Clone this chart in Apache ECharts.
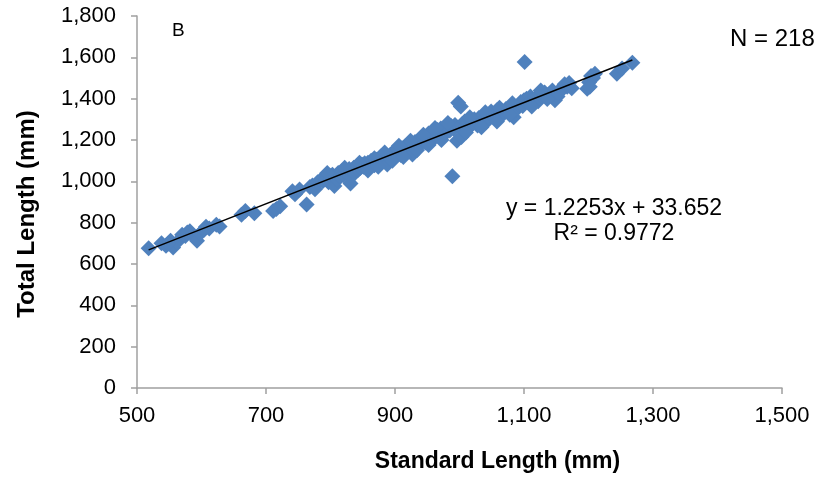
<!DOCTYPE html>
<html>
<head>
<meta charset="utf-8">
<script src="https://cdn.jsdelivr.net/npm/echarts@6/dist/echarts.min.js"></script>
<style>html,body{margin:0;padding:0;background:#fff}#c{width:832px;height:478px}</style>
</head>
<body>
<div id="c"></div>
<script>
// Standard length (mm) vs total length (mm)
const points = [
[518,676],[538,700],[545,688],[552,712],[556,680],[562,705],[570,742],[575,735],[582,758],[586,740],
[593,712],[598,748],[607,780],[612,772],[623,790],[628,782],[662,838],[668,856],[682,846],[711,856],
[716,866],[722,880],[741,952],[745,938],[752,960],[763,888],
[768,972],[772,980],[776,962],[780,995],[784,1004],[788,1000],[790,1018],[794,1010],[797,996],[800,1024],
[803,1032],[806,978],[810,1008],[812,1040],[815,1022],[818,1050],[820,1030],[823,1044],[826,1036],[829,1060],
[831,990],[833,1052],[836,1066],[838,1040],[841,1072],[843,1056],[846,1064],[849,1080],[851,1070],[853,1088],
[856,1074],[858,1090],[861,1082],[863,1100],[866,1092],[868,1078],[871,1104],[873,1096],[876,1112],[878,1120],
[881,1108],[883,1126],[886,1098],[888,1082],[890,1116],[893,1130],[895,1122],[897,1140],[900,1148],[902,1134],
[904,1156],[907,1144],[909,1128],[911,1160],[914,1150],[916,1170],[918,1162],[920,1178],[922,1166],[925,1184],
[927,1130],[929,1172],[931,1190],[934,1180],[936,1196],[938,1186],[940,1200],[943,1192],[945,1208],[947,1188],
[950,1214],[952,1232],[955,1204],[957,1220],[959,1240],[962,1212],[964,1228],[966,1248],[969,1236],[971,1256],
[973,1244],[976,1230],[978,1252],[980,1238],[983,1260],[985,1246],[987,1268],[989,1024],[991,1254],[993,1272],
[996,1196],[998,1380],[1000,1262],[1002,1362],[1003,1214],[1004,1276],[1006,1250],[1008,1290],[1011,1270],[1013,1284],
[1015,1262],[1018,1296],[1020,1278],[1023,1300],[1025,1286],[1028,1270],[1030,1306],[1033,1292],[1036,1316],[1038,1300],
[1041,1286],[1044,1322],[1046,1306],[1049,1338],[1052,1314],[1055,1328],[1058,1344],[1061,1320],[1064,1336],[1068,1326],
[1072,1350],[1076,1340],[1080,1358],[1084,1310],[1088,1346],[1092,1370],[1095,1384],[1098,1364],[1100,1392],[1101,1578],
[1104,1400],[1107,1380],[1110,1410],[1113,1396],[1118,1404],[1122,1388],[1127,1414],[1132,1430],[1138,1420],[1144,1440],
[1148,1392],[1152,1410],[1158,1450],[1163,1470],[1167,1458],[1170,1476],[1198,1448],[1201,1480],[1204,1510],[1207,1500],
[1244,1520],[1252,1546],[1268,1574],
[795,1040],[822,1066],[845,1090],[868,1112],[884,1140],[906,1172],[924,1196],[944,1226],[962,1258],[982,1282],
[1016,1310],[1040,1334],[1062,1356],[1082,1378],[858,1052],[874,1070],[896,1100],[913,1118],[934,1150],[952,1176],
[972,1200],[1010,1236],[1034,1262],[1058,1290],[1078,1322],[1112,1362],[1136,1398],[1154,1428],[1174,1450],[1126,1440],
[1202,1458],[1210,1520],[578,752],[604,766],[548,698]
];
const slope = 1.2253, intercept = 33.652;
const trendRange = [518, 1268];
const xTicks = {min: 500, max: 1500, step: 200};
const yTicks = {min: 0, max: 1800, step: 200};
const eqText = 'y = 1.2253x + 33.652';
const r2Text = 'R² = 0.9772';
const panelLabel = 'B';
const nLabel = 'N = 218';

const fmt = v => v.toLocaleString('en-US');
const F = 'Liberation Sans, Arial, sans-serif';
const AX = '#a0a0a0';
const chart = echarts.init(document.getElementById('c'));
chart.setOption({
  animation: false,
  textStyle: {fontFamily: F},
  grid: {left: 137, right: 50, top: 16, bottom: 88},
  xAxis: {
    type: 'value', min: xTicks.min, max: xTicks.max, interval: xTicks.step,
    name: 'Standard Length (mm)', nameLocation: 'middle', nameGap: 62,
    nameTextStyle: {fontFamily: F, fontSize: 23, fontWeight: 'bold', color: '#000', padding: [0,0,0,76]},
    axisLine: {show: true, lineStyle: {color: AX, width: 1.5}},
    axisTick: {show: true, length: 6, lineStyle: {color: AX, width: 1.5}},
    axisLabel: {fontFamily: F, fontSize: 22, color: '#000', margin: 17, formatter: fmt},
    splitLine: {show: false}
  },
  yAxis: {
    type: 'value', min: yTicks.min, max: yTicks.max, interval: yTicks.step,
    name: 'Total Length (mm)', nameLocation: 'middle', nameGap: 98,
    nameTextStyle: {fontFamily: F, fontSize: 24, fontWeight: 'bold', color: '#000', padding: [0,24,0,0]},
    axisLine: {show: true, lineStyle: {color: AX, width: 1.5}},
    axisTick: {show: true, length: 6, lineStyle: {color: AX, width: 1.5}},
    axisLabel: {fontFamily: F, fontSize: 22, color: '#000', margin: 21, formatter: fmt},
    splitLine: {show: false}
  },
  graphic: [
    {type: 'text', left: 172, top: 21, style: {text: panelLabel, font: '19px ' + F, fill: '#000'}},
    {type: 'text', left: 730, top: 27, style: {text: nLabel, font: '24px ' + F, fill: '#000'}},
    {type: 'text', x: 614, y: 209, style: {text: eqText, font: '23px ' + F, fill: '#000', align: 'center', verticalAlign: 'middle'}},
    {type: 'text', x: 614, y: 234, style: {text: r2Text, font: '23px ' + F, fill: '#000', align: 'center', verticalAlign: 'middle'}}
  ],
  series: [
    {
      type: 'scatter', data: points, symbol: 'diamond', symbolSize: 16,
      itemStyle: {color: '#4F81BD', opacity: 1}, z: 2
    },
    {
      type: 'line', showSymbol: false, symbol: 'none', z: 3,
      data: trendRange.map(x => [x, slope * x + intercept]),
      lineStyle: {color: '#000', width: 1.5}
    }
  ]
});
</script>
</body>
</html>
